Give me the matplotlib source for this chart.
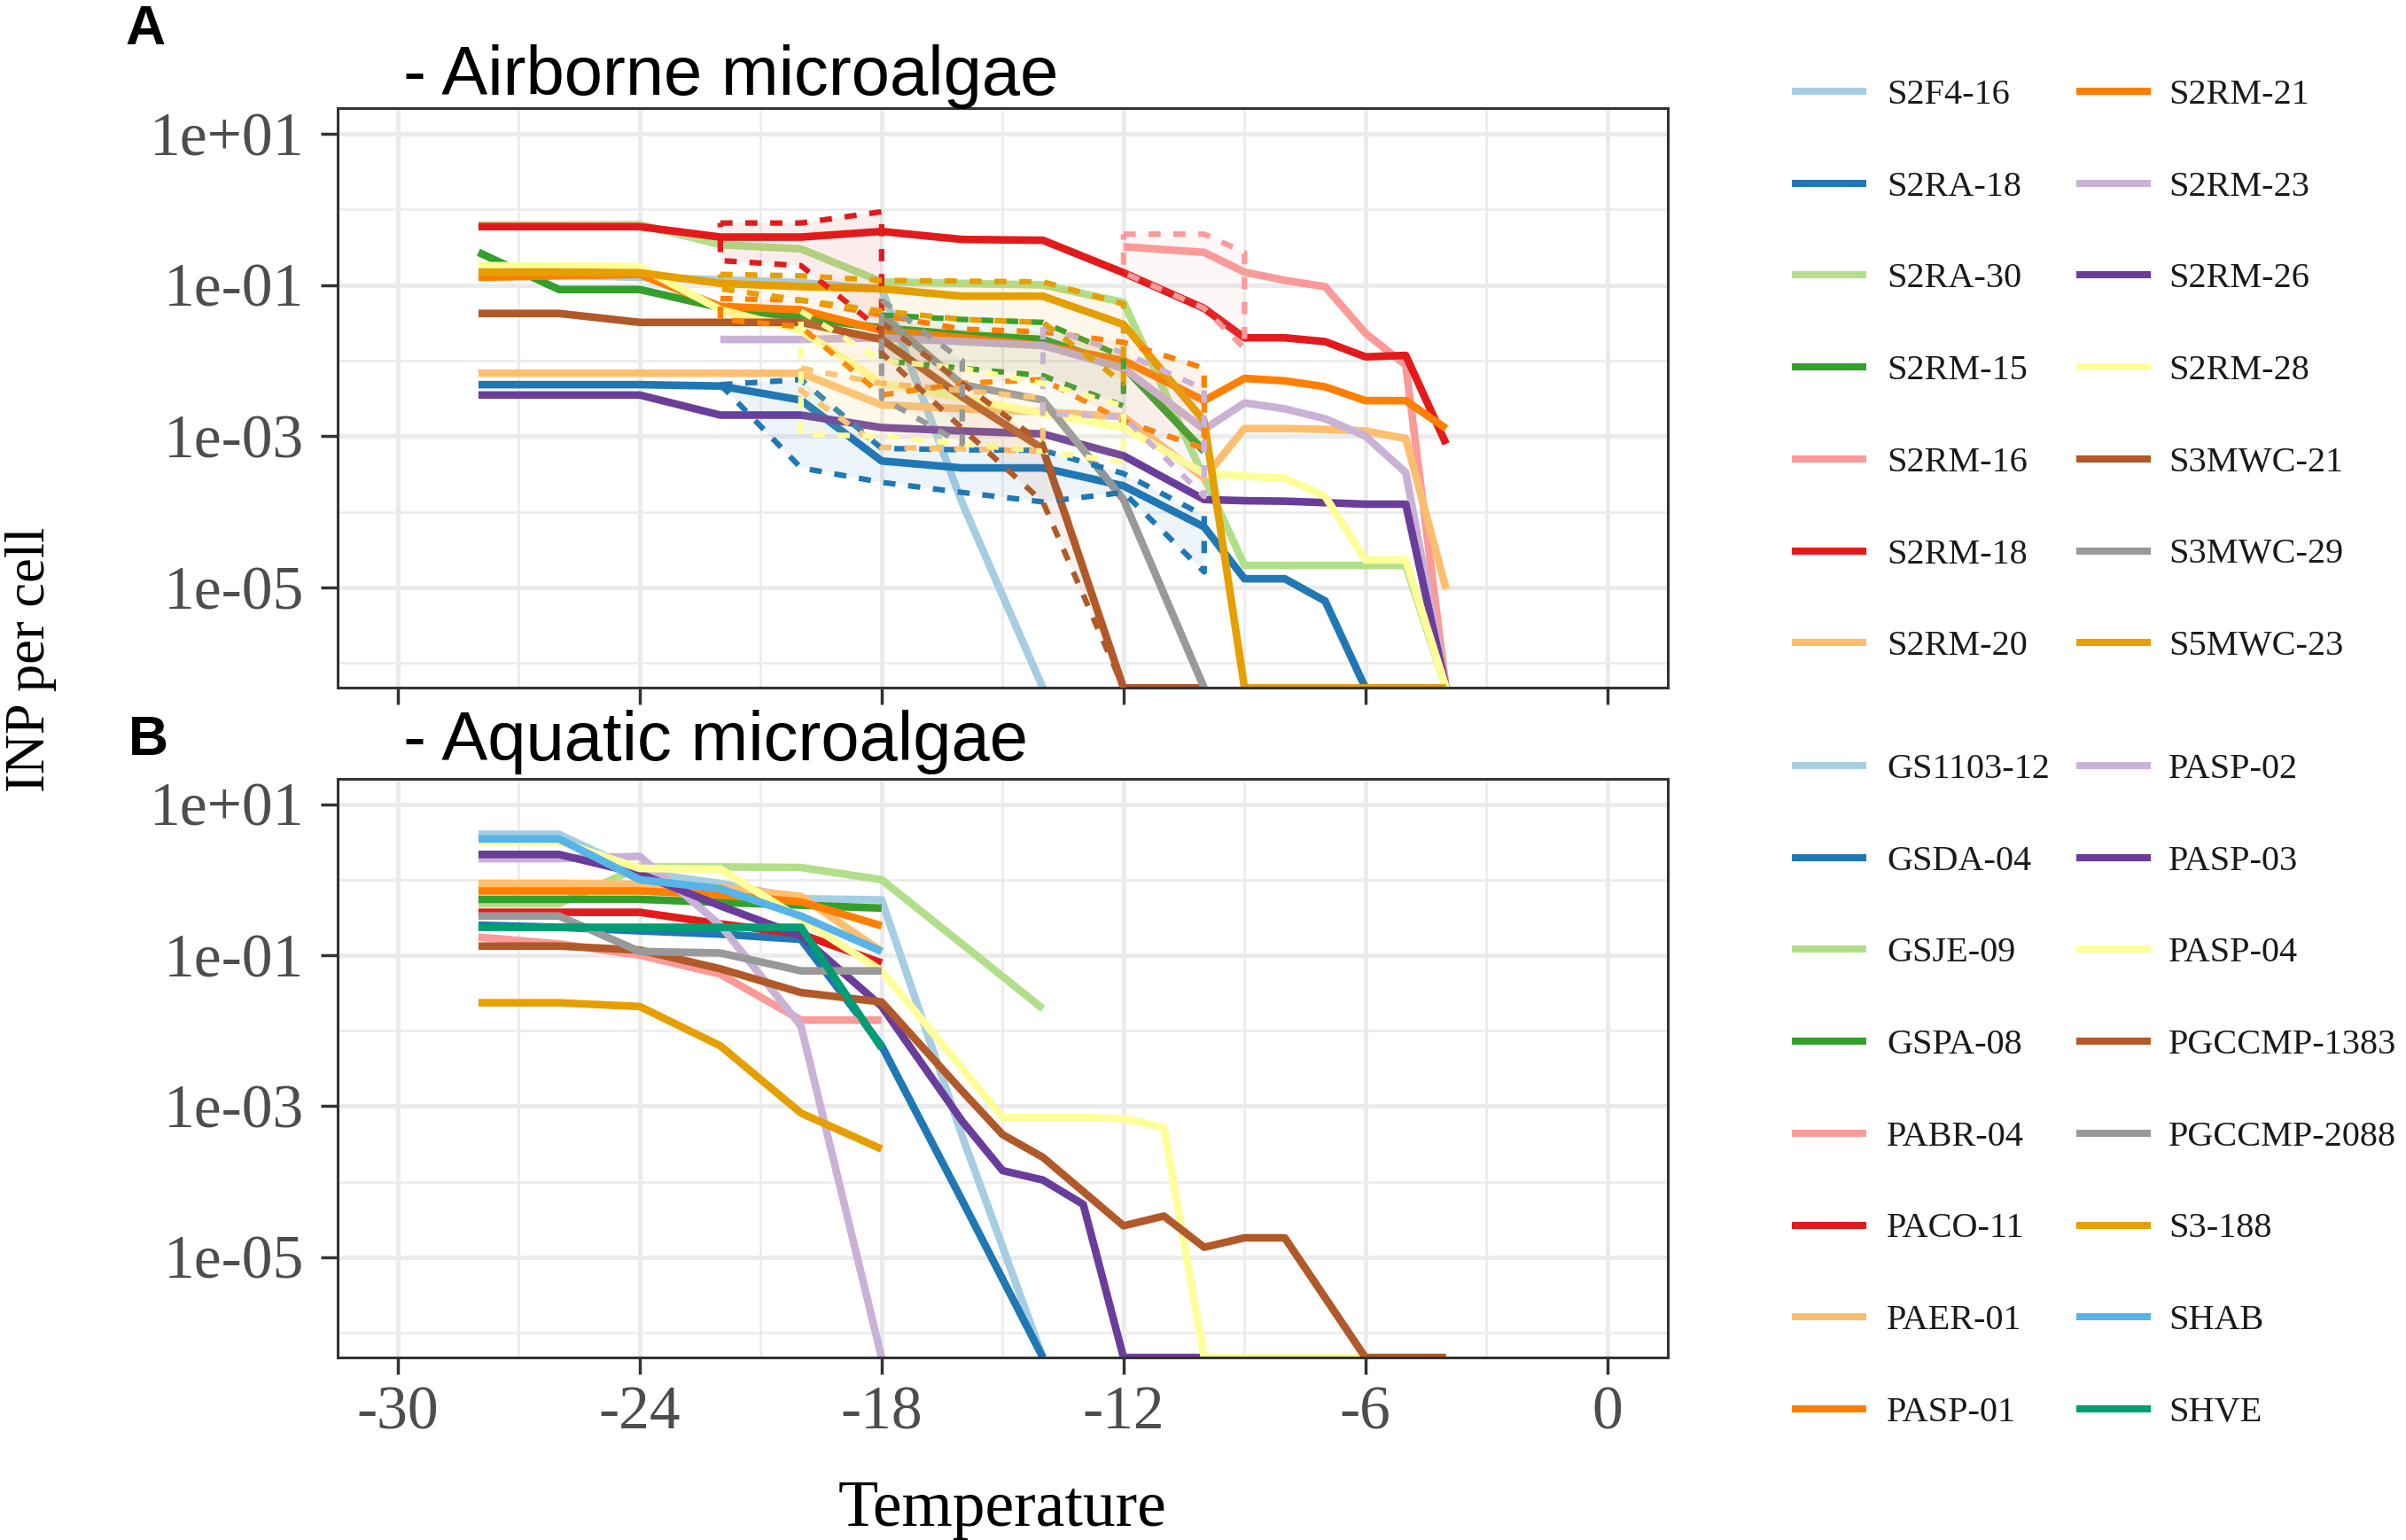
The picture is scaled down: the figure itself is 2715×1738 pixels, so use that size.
import numpy as np
import matplotlib
matplotlib.use("Agg")
import matplotlib.pyplot as plt
from matplotlib.lines import Line2D
from matplotlib.ticker import NullFormatter

plt.rcParams['font.family'] = 'Liberation Serif'
plt.rcParams['axes.unicode_minus'] = False

W, H = 2715, 1738
YMIN, YMAX = 10 ** -6.33, 10 ** 1.335

# ---------------- panel A : airborne microalgae ----------------
air_names = ["S2F4-16", "S2RA-18", "S2RA-30", "S2RM-15", "S2RM-16", "S2RM-18", "S2RM-20",
             "S2RM-21", "S2RM-23", "S2RM-26", "S2RM-28", "S3MWC-21", "S3MWC-29", "S5MWC-23"]
air_colors = ["#a6cee3", "#1f78b4", "#b2df8a", "#33a02c", "#fb9a99", "#e31a1c", "#fdbf6f",
              "#ff7f00", "#cab2d6", "#6a3d9a", "#ffff99", "#b15928", "#999999", "#e69f00"]

t_full = [-28, -26, -24, -22, -20, -18, -16, -14, -12, -10, -9, -8, -7, -6, -5, -4]

air_T = {
    "S2F4-16": [-28, -26, -24, -22, -20, -18, -16, -14],
    "S2RA-18": t_full,
    "S2RA-30": [-28, -26, -24, -22, -20, -18, -16, -14, -12, -9, -8, -7, -6, -5, -4],
    "S2RM-15": [-28, -26, -24, -22, -20, -18, -16, -14, -12, -10],
    "S2RM-16": [-12, -10, -9, -8, -7, -6, -5, -4],
    "S2RM-18": t_full,
    "S2RM-20": t_full,
    "S2RM-21": t_full,
    "S2RM-23": [-22, -20, -18, -16, -14, -12, -10, -9, -8, -7, -6, -5, -4],
    "S2RM-26": t_full,
    "S2RM-28": t_full,
    "S3MWC-21": [-28, -26, -24, -22, -20, -18, -16, -14, -12, -11, -10],
    "S3MWC-29": [-18, -16, -14, -12, -10],
    "S5MWC-23": t_full,
}
air_INP = {
    "S2F4-16": [0.14, 0.135, 0.126, 0.117, 0.107, 0.089, 1.3e-4, 0],
    "S2RA-18": [4.8e-3, 4.8e-3, 4.8e-3, 4.6e-3, 3.0e-3, 4.7e-4, 3.8e-4, 3.8e-4, 2.2e-4, 6.3e-5,
                1.3e-5, 1.3e-5, 6.6e-6, 0, 0, 0],
    "S2RA-30": [0.62, 0.62, 0.63, 0.34, 0.30, 0.11, 0.105, 0.10, 0.059, 1.95e-5, 1.95e-5,
                1.95e-5, 1.95e-5, 1.95e-5, 0],
    "S2RM-15": [0.27, 0.087, 0.087, 0.050, 0.037, 0.027, 0.022, 0.019, 8.3e-3, 6.3e-4],
    "S2RM-16": [0.32, 0.27, 0.148, 0.115, 0.095, 0.023, 8.7e-3, 0],
    "S2RM-18": [0.59, 0.59, 0.59, 0.43, 0.43, 0.51, 0.40, 0.39, 0.145, 0.049, 0.020, 0.020,
                0.0178, 0.0112, 0.0117, 7.9e-4],
    "S2RM-20": [6.8e-3, 6.8e-3, 6.8e-3, 6.8e-3, 6.8e-3, 2.6e-3, 2.3e-3, 2.1e-3, 1.8e-3, 2.8e-4,
                1.26e-3, 1.26e-3, 1.23e-3, 1.17e-3, 9.3e-4, 9.5e-6],
    "S2RM-21": [0.126, 0.132, 0.138, 0.052, 0.047, 0.025, 0.020, 0.0158, 0.010, 2.95e-3, 5.8e-3,
                5.4e-3, 4.5e-3, 2.95e-3, 2.95e-3, 1.26e-3],
    "S2RM-23": [0.019, 0.019, 0.020, 0.0178, 0.0158, 7.9e-3, 1.23e-3, 2.75e-3, 2.3e-3, 1.7e-3,
                1.0e-3, 3.3e-4, 0],
    "S2RM-26": [3.5e-3, 3.5e-3, 3.5e-3, 1.9e-3, 1.9e-3, 1.3e-3, 1.17e-3, 1.07e-3, 5.5e-4, 1.45e-4,
                1.4e-4, 1.38e-4, 1.32e-4, 1.26e-4, 1.26e-4, 0],
    "S2RM-28": [0.18, 0.178, 0.174, 0.047, 0.025, 5.0e-3, 3.2e-3, 2.0e-3, 1.3e-3, 3.2e-4, 2.95e-4,
                2.8e-4, 1.6e-4, 2.3e-5, 2.3e-5, 0],
    "S3MWC-21": [0.042, 0.042, 0.032, 0.032, 0.032, 0.019, 3.3e-3, 6.8e-4, 0, 0, 0],
    "S3MWC-29": [0.040, 4.8e-3, 3.0e-3, 1.45e-4, 0],
    "S5MWC-23": [0.148, 0.148, 0.145, 0.105, 0.095, 0.089, 0.071, 0.071, 0.030, 1.58e-3,
                 0, 0, 0, 0, 0, 0],
}

# spread between replicates (dashed ribbons), panel A only
band_T = {
    "S2RM-18": [-22, -20, -18],
    "S2RM-16": [-12, -10, -9],
    "S2RA-18": [-22, -20, -18, -16, -14, -12, -10],
    "S5MWC-23": [-22, -20, -18, -16, -14, -12],
    "S2RM-21": [-22, -20, -18, -16, -14, -12, -10],
    "S2RM-15": [-18, -16, -14, -12],
    "S2RM-23": [-14, -12, -10],
    "S2RM-28": [-20, -18, -16, -14, -12],
    "S2RM-20": [-20, -18, -16, -14],
    "S3MWC-21": [-18, -16, -14, -12],
    "S3MWC-29": [-18, -16],
}
band_lo = {
    "S2RM-18": [0.21, 0.18, 0.025],
    "S2RM-16": [0.145, 0.049, 0.0145],
    "S2RA-18": [4.8e-3, 3.8e-4, 2.45e-4, 1.8e-4, 1.35e-4, 1.8e-4, 1.6e-5],
    "S5MWC-23": [0.089, 0.063, 0.045, 0.035, 0.032, 5.0e-3],
    "S2RM-21": [0.035, 0.028, 3.5e-3, 5.0e-3, 5.6e-3, 1.58e-3, 6.9e-4],
    "S2RM-15": [0.010, 7.9e-3, 6.3e-3, 2.5e-3],
    "S2RM-23": [2.0e-3, 1.8e-3, 1.6e-4],
    "S2RM-28": [1.05e-3, 1.0e-3, 7.9e-4, 6.3e-4, 4.5e-4],
    "S2RM-20": [4.0e-3, 7.1e-4, 6.8e-4, 6.3e-4],
    "S3MWC-21": [0.0126, 1.26e-3, 1.35e-4, 0],
    "S3MWC-29": [3.2e-3, 7.9e-4],
}
band_hi = {
    "S2RM-18": [0.66, 0.66, 0.93],
    "S2RM-16": [0.47, 0.47, 0.27],
    "S2RA-18": [4.8e-3, 5.6e-3, 6.9e-4, 6.6e-4, 6.5e-4, 3.2e-4, 8.9e-5],
    "S5MWC-23": [0.138, 0.132, 0.115, 0.112, 0.11, 0.056],
    "S2RM-21": [0.066, 0.063, 0.040, 0.026, 0.024, 0.0174, 7.9e-3],
    "S2RM-15": [0.040, 0.035, 0.032, 0.0112],
    "S2RM-23": [0.028, 0.0126, 4.2e-3],
    "S2RM-28": [0.045, 0.010, 7.9e-3, 5.0e-3, 2.5e-3],
    "S2RM-20": [7.9e-3, 5.0e-3, 4.0e-3, 3.2e-3],
    "S3MWC-21": [0.032, 5.0e-3, 7.9e-4, 0],
    "S3MWC-29": [0.063, 0.010],
}

# ---------------- panel B : aquatic microalgae ----------------
aqua_names = ["GS1103-12", "GSDA-04", "GSJE-09", "GSPA-08", "PABR-04", "PACO-11", "PAER-01",
              "PASP-01", "PASP-02", "PASP-03", "PASP-04", "PGCCMP-1383", "PGCCMP-2088",
              "S3-188", "SHAB", "SHVE"]
aqua_colors = ["#a6cee3", "#1f78b4", "#b2df8a", "#33a02c", "#fb9a99", "#e31a1c", "#fdbf6f",
               "#ff7f00", "#cab2d6", "#6a3d9a", "#ffff99", "#b15928", "#999999",
               "#e69f00", "#56b4e9", "#009e73"]

t_six = [-28, -26, -24, -22, -20, -18]
aqua_T = {
    "GS1103-12": [-28, -26, -24, -22, -20, -18, -16, -14],
    "GSDA-04": [-28, -26, -24, -22, -20, -18, -16, -14],
    "GSJE-09": [-28, -26, -24, -22, -20, -18, -16, -14],
    "GSPA-08": t_six,
    "PABR-04": t_six,
    "PACO-11": t_six,
    "PAER-01": t_six,
    "PASP-01": t_six,
    "PASP-02": t_six,
    "PASP-03": [-28, -26, -24, -22, -20, -18, -16, -15, -14, -13, -12, -11, -10],
    "PASP-04": [-28, -26, -24, -22, -20, -18, -15, -14, -13, -12, -11, -10, -9, -8, -7, -6, -5, -4],
    "PGCCMP-1383": [-28, -26, -24, -22, -20, -18, -16, -15, -14, -12, -11, -10, -9, -8, -6, -5, -4],
    "PGCCMP-2088": t_six,
    "S3-188": t_six,
    "SHAB": t_six,
    "SHVE": t_six,
}
aqua_INP = {
    "GS1103-12": [4.0, 4.0, 1.26, 0.89, 0.56, 0.54, 4.0e-4, 0],
    "GSDA-04": [0.25, 0.234, 0.21, 0.19, 0.162, 6.3e-3, 5.6e-5, 0],
    "GSJE-09": [0.48, 0.48, 1.48, 1.48, 1.45, 1.0, 0.14, 0.0195],
    "GSPA-08": [0.55, 0.55, 0.55, 0.50, 0.46, 0.42],
    "PABR-04": [0.174, 0.141, 0.10, 0.056, 0.0138, 0.0138],
    "PACO-11": [0.37, 0.37, 0.37, 0.26, 0.19, 0.079],
    "PAER-01": [0.89, 0.89, 0.87, 0.79, 0.60, 0.112],
    "PASP-01": [0.71, 0.71, 0.71, 0.63, 0.51, 0.245],
    "PASP-02": [1.9, 1.9, 2.04, 0.25, 0.0115, 0],
    "PASP-03": [2.16, 2.16, 1.2, 0.45, 0.18, 0.021, 6.3e-4, 1.4e-4, 1.05e-4, 5.0e-5, 0, 0, 0],
    "PASP-04": [3.2, 3.2, 1.41, 1.38, 0.30, 0.062, 7.1e-4, 7.1e-4, 7.1e-4, 6.8e-4, 5.2e-4,
                0, 0, 0, 0, 0, 0, 0],
    "PGCCMP-1383": [0.132, 0.132, 0.117, 0.066, 0.032, 0.024, 1.58e-3, 4.2e-4, 2.1e-4, 2.6e-5,
                    3.5e-5, 1.35e-5, 1.8e-5, 1.8e-5, 0, 0, 0],
    "PGCCMP-2088": [0.33, 0.33, 0.112, 0.107, 0.062, 0.062],
    "S3-188": [0.0234, 0.0234, 0.0209, 6.3e-3, 8.1e-4, 2.7e-4],
    "SHAB": [3.47, 3.47, 1.0, 0.76, 0.33, 0.112],
    "SHVE": [0.234, 0.234, 0.234, 0.234, 0.234, 5.9e-3],
}


def floor0(v):
    # zero INP goes to the bottom edge of the panel, as -Inf does on a log axis in ggplot
    v = np.asarray(v, dtype=float)
    return np.where(v > 0, v, YMIN)


def setup(ax, xlabels):
    ax.set_yscale('log')
    ax.set_xlim(-31.5, 1.5)
    ax.set_ylim(YMIN, YMAX)
    ax.set_xticks([-30, -24, -18, -12, -6, 0])
    ax.set_xticks([-27, -21, -15, -9, -3], minor=True)
    ax.set_yticks([1e1, 1e-1, 1e-3, 1e-5])
    ax.set_yticklabels(['1e+01', '1e-01', '1e-03', '1e-05'])
    ax.set_yticks([1e0, 1e-2, 1e-4, 1e-6], minor=True)
    ax.yaxis.set_minor_formatter(NullFormatter())
    ax.grid(which='major', color='#ebebeb', lw=3.6)
    ax.grid(which='minor', color='#ebebeb', lw=1.8)
    ax.set_axisbelow(True)
    ax.tick_params(which='major', length=14, width=2.5, color='#333333',
                   labelsize=50, labelcolor='#4d4d4d')
    ax.tick_params(axis='x', which='major', pad=9, labelbottom=xlabels)
    ax.tick_params(axis='y', which='major', pad=13)
    ax.tick_params(which='minor', length=0)
    for s in ax.spines.values():
        s.set_color('#333333')
        s.set_linewidth(2.2)


def draw_lines(ax, names, colors, T, INP):
    for nm, c in zip(names, colors):
        ax.plot(T[nm], floor0(INP[nm]), color=c, lw=6.2, solid_capstyle='butt',
                solid_joinstyle='round', zorder=2)


def draw_bands(ax, names, colors):
    for nm, c in zip(names, colors):
        if nm not in band_T:
            continue
        t = list(band_T[nm])
        lo = list(floor0(band_lo[nm]))
        hi = list(floor0(band_hi[nm]))
        px = t + t[::-1] + [t[0]]
        py = hi + lo[::-1] + [hi[0]]
        ax.fill(px, py, color=c, alpha=0.08, lw=0, zorder=3)
        ax.plot(px, py, color=c, lw=4.5, dashes=(2.2, 2.3), zorder=3)


def draw_key(fig, names, colors, top, nrows):
    hx = [(2022, 2106), (2343, 2427)]
    tx = [2129, 2447]
    for i, (nm, c) in enumerate(zip(names, colors)):
        col, row = divmod(i, nrows)
        y = top + row * 103.7
        fig.add_artist(Line2D([hx[col][0] / W, hx[col][1] / W], [1 - y / H] * 2,
                              transform=fig.transFigure, color=c, lw=5.8,
                              solid_capstyle='butt'))
        fig.text(tx[col] / W, 1 - (y + 14) / H, nm, fontsize=29, color='#1a1a1a',
                 ha='left', va='baseline')


fig = plt.figure(figsize=(W / 100, H / 100), dpi=100)
axA = fig.add_axes([0.1402, 0.5533, 0.5530, 0.3763])
axB = fig.add_axes([0.1402, 0.1185, 0.5530, 0.3757])
setup(axA, False)
setup(axB, True)

draw_lines(axA, air_names, air_colors, air_T, air_INP)
draw_bands(axA, air_names, air_colors)
draw_lines(axB, aqua_names, aqua_colors, aqua_T, aqua_INP)

sans = 'Liberation Sans'
fig.text(455 / W, 1 - 107 / H, '- Airborne microalgae', family=sans, fontsize=56, va='baseline')
fig.text(455 / W, 1 - 858 / H, '- Aquatic microalgae', family=sans, fontsize=56, va='baseline')
fig.text(141 / W, 1 - 50 / H, 'A', family=sans, fontweight='bold', fontsize=45, va='baseline')
fig.text(145 / W, 1 - 852 / H, 'B', family=sans, fontweight='bold', fontsize=45, va='baseline')

fig.text(35 / W, 1 - 744 / H, 'INP per cell', rotation=90, fontsize=45, ha='center', va='center')
fig.text(1131 / W, 1 - 1722 / H, 'Temperature', fontsize=53, ha='center', va='baseline')

draw_key(fig, air_names, air_colors, 103, 7)
draw_key(fig, aqua_names, aqua_colors, 864, 8)

fig.savefig('out.png', dpi=100)
